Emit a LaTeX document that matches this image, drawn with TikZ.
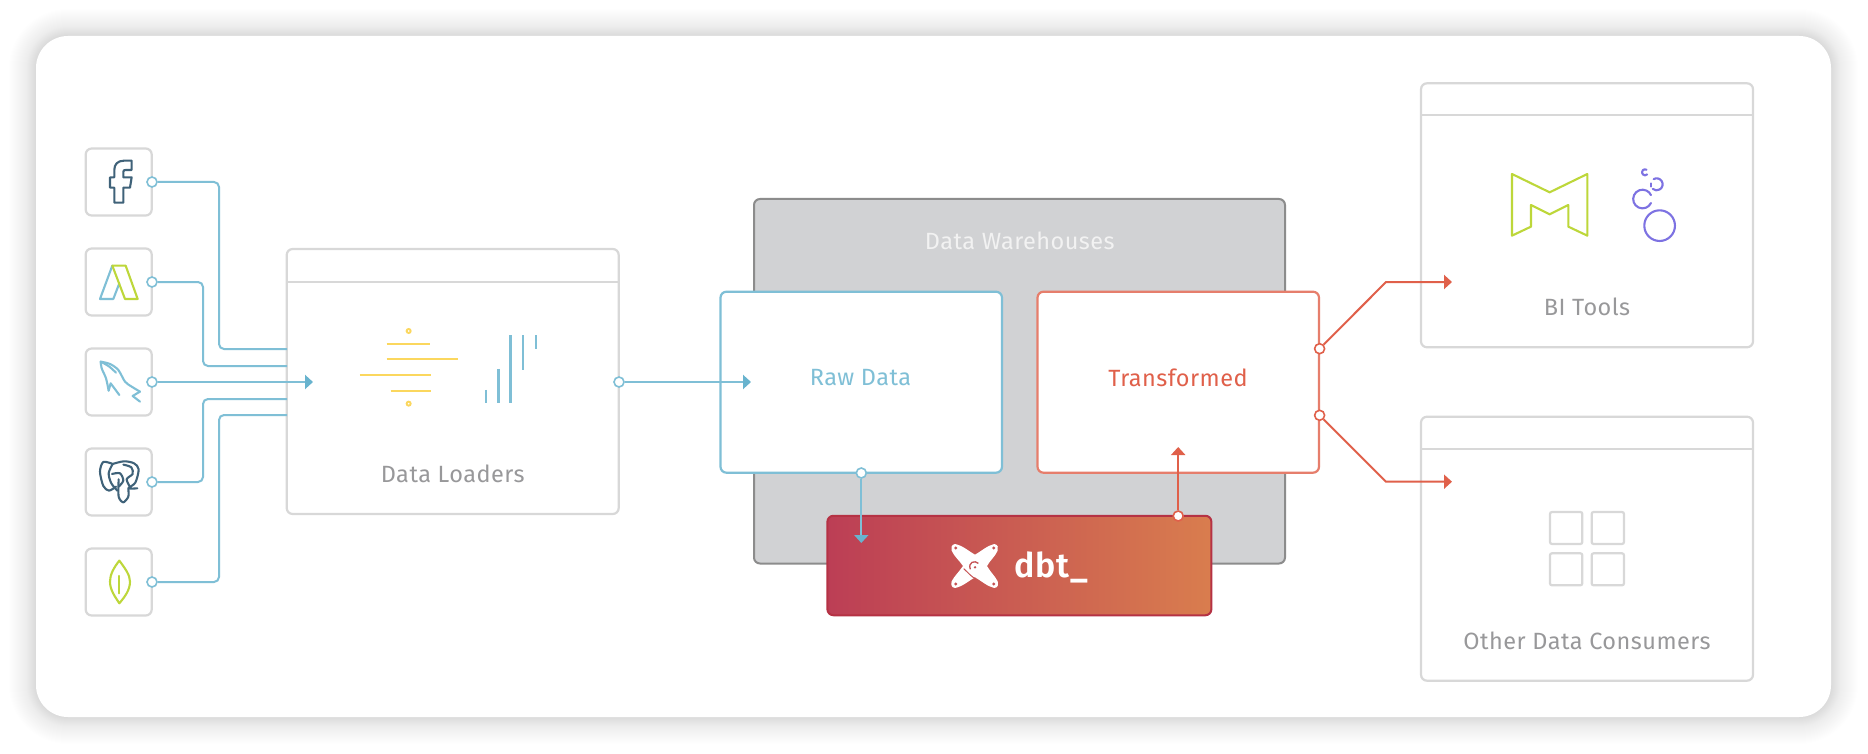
\documentclass[tikz,border=0pt]{standalone}
\usepackage{fontspec}
\usetikzlibrary{arrows.meta}
\setmainfont[LetterSpace=2.0]{Fira Sans}
\newfontfamily\dbtfont[LetterSpace=3.0]{Fira Sans SemiBold}
\definecolor{wireblue}{HTML}{7FBFD6}
\definecolor{tipblue}{HTML}{68B3CE}
\definecolor{wirered}{HTML}{E0604A}
\definecolor{edgered}{HTML}{E67E6C}
\definecolor{boxgray}{HTML}{D8D8D8}
\definecolor{textgray}{HTML}{98989A}
\definecolor{whfill}{HTML}{D1D2D4}
\definecolor{whedge}{HTML}{8C8C8C}
\definecolor{dbtleft}{HTML}{BC3E55}
\definecolor{dbtright}{HTML}{D97D4E}
\definecolor{dbtedge}{HTML}{B53244}
\definecolor{icondark}{HTML}{3F6279}
\definecolor{lime}{HTML}{BDD73A}
\definecolor{sunny}{HTML}{FBD75E}
\definecolor{bubble}{HTML}{7D72E2}
\tikzset{
    winbox/.style={draw=boxgray,fill=white,line width=2.2pt,rounded corners=6,inner sep=0,outer sep=0},
    iconbox/.style={winbox,minimum width=66,minimum height=67},
    tilebox/.style={draw=boxgray,line width=2.2pt,rounded corners=2},
    caption/.style={inner sep=0,text=textgray,font=\fontsize{23.5}{26}\selectfont},
    bluedot/.style={circle,draw=wireblue,fill=white,line width=1.6pt,inner sep=0,minimum size=10},
    reddot/.style={circle,draw=wirered,fill=white,line width=1.6pt,inner sep=0,minimum size=10},
    bluewire/.style={draw=wireblue,line width=2pt,rounded corners=5},
    redwire/.style={draw=wirered,line width=2pt},
    bluetip/.style={-{Triangle[length=8,width=14,color=tipblue]}},
    redtip/.style={-{Triangle[length=8,width=14,color=wirered]}},
    zoomed/.style={x=0.3333pt,y=-0.3333pt},
    iconline/.style={line width=2.1pt,line join=round,line cap=round}
}
\begin{document}
\begin{tikzpicture}[x=1pt,y=-1pt]
                \useasboundingbox (0,0) rectangle (1868,754);
                \foreach \i in {1,...,36} {
                    \pgfmathsetmacro{\shade}{0.00022*(37-\i)}
                    \fill[black,fill opacity=\shade,rounded corners=32+\i] (36-\i,36-\i) rectangle (1831+\i,717+\i);
                }
                \node[fill=white,rounded corners=32,inner sep=0,minimum width=1795,minimum height=681] (card) at (933.5,376.5) {};
                \begin{scope}[every node/.style={iconbox}]
                    \node (fb) at (118.7,182) {};
                    \node (ads) at (118.7,282) {};
                    \node (mysql) at (118.7,382) {};
                    \node (pg) at (118.7,482) {};
                    \node (mongo) at (118.7,582) {};
                \end{scope}
                \node[winbox,minimum width=332,minimum height=265] (loaders) at (452.7,381.5) {};
                \node[winbox,minimum width=332,minimum height=264] (bi) at (1587,215.3) {};
                \node[winbox,minimum width=332,minimum height=264] (other) at (1587,548.7) {};
                \node[draw=whedge,fill=whfill,line width=2pt,rounded corners=6,minimum width=531,minimum height=364.5,inner sep=0] (wh) at (1019.5,381.25) {};
                \node[draw=wireblue,fill=white,line width=2.2pt,rounded corners=6,minimum width=281.5,minimum height=181,inner sep=0] (raw) at (861.25,382.2) {};
                \node[draw=edgered,fill=white,line width=2.2pt,rounded corners=6,minimum width=281.5,minimum height=181,inner sep=0] (tr) at (1178.25,382.2) {};
                \node[left color=dbtleft,right color=dbtright,draw=dbtedge,line width=2pt,rounded corners=6,minimum width=384,minimum height=99.5,inner sep=0] (dbt) at (1019.4,565.5) {};
                \draw[boxgray,line width=2pt] (287,282) -- (619,282);
                \draw[boxgray,line width=1.8pt] (1421,115) -- (1753,115);
                \draw[boxgray,line width=2.2pt] (1421,448.7) -- (1753,448.7);
                \node[caption] (loadtext) at (452.7,474) {Data Loaders};
                \node[caption] (bitext) at (1587,307) {BI Tools};
                \node[caption] (othertext) at (1587,640.5) {Other Data Consumers};
                \node[caption,text=white!95!black] (whtext) at (1019.8,241) {Data Warehouses};
                \node[caption,text=wireblue] (rawtext) at (860.5,378) {Raw Data};
                \node[caption,text=wirered] (trtext) at (1178,378) {Transformed};
                \node[inner sep=0,anchor=base west,text=white,font=\dbtfont\fontsize{34}{36}\selectfont] (dbttext) at (1014,577) {dbt\_};
                \begin{scope}[every node/.style={bluedot}]
                    \node (fbdot) at (152,182) {};
                    \node (adsdot) at (152,282) {};
                    \node (mysqldot) at (152,382) {};
                    \node (pgdot) at (152,482) {};
                    \node (mongodot) at (152,582) {};
                    \node (loaddot) at (619,382) {};
                    \node (rawdot) at (861.3,473) {};
                \end{scope}
                \begin{scope}[every node/.style={reddot}]
                    \node (dbtdot) at (1178.2,516) {};
                    \node (upperdot) at (1319.6,348.7) {};
                    \node (lowerdot) at (1319.6,415.3) {};
                \end{scope}
                \coordinate (kneea) at (219,349);
                \coordinate (kneeb) at (203,366);
                \coordinate (kneec) at (203,399);
                \coordinate (kneed) at (219,415);
                \coordinate (ina) at (287,349);
                \coordinate (inb) at (287,366);
                \coordinate (inc) at (287,399);
                \coordinate (ind) at (287,415);
                \coordinate (loadtip) at (313,382);
                \coordinate (rawtip) at (751,382);
                \coordinate (dbttip) at (861.3,543);
                \coordinate (trtip) at (1178.2,447);
                \coordinate (upperknee) at (1386,282);
                \coordinate (lowerknee) at (1386,481.7);
                \coordinate (bitip) at (1452,282);
                \coordinate (othertip) at (1452,481.7);
                \draw[bluewire] (fbdot) -| (kneea) -- (ina);
                \draw[bluewire] (adsdot) -| (kneeb) -- (inb);
                \draw[bluewire] (pgdot) -| (kneec) -- (inc);
                \draw[bluewire] (mongodot) -| (kneed) -- (ind);
                \draw[bluewire,bluetip] (mysqldot) -- (loadtip);
                \draw[bluewire,bluetip] (loaddot) -- (rawtip);
                \draw[bluewire,bluetip] (rawdot) -- (dbttip);
                \draw[redwire,redtip] (dbtdot) -- (trtip);
                \draw[redwire,redtip] (upperdot) -- (upperknee) -- (bitip);
                \draw[redwire,redtip] (lowerdot) -- (lowerknee) -- (othertip);
                \begin{scope}[shift={(60,120)},zoomed,iconline]
                    \draw[icondark] (163,248) -- (190,248) -- (190,203) -- (210,203) -- (215,172) -- (190,172) -- (190,156) .. controls (190,151) and (192,150) .. (197,150) -- (215,150) -- (215,122) -- (192,122) .. controls (172,122) and (163,134) .. (163,150) -- (163,172) -- (150,172) -- (150,203) -- (163,203) -- cycle;
                    \draw[wireblue] (157,437) -- (120,537) -- (160,537) -- (178,490);
                    \draw[lime] (157,437) -- (197,437) -- (233,537) -- (195,537) -- cycle;
                    \draw[wireblue] plot[smooth] coordinates {(122,725) (150,732) (175,750) (195,785) (215,800) (240,815)};
                    \draw[wireblue] plot[smooth] coordinates {(126,727) (148,740) (168,758)};
                    \draw[wireblue] (240,815) -- (218,828) -- (240,845);
                    \draw[wireblue] plot[smooth] coordinates {(122,725) (125,745) (138,775) (146,812)};
                    \draw[wireblue] (146,812) -- (152,790) -- (178,825);
                    \draw[lime] (178,1322) .. controls (160,1345) and (150,1365) .. (150,1385) .. controls (150,1410) and (165,1430) .. (178,1450) .. controls (195,1430) and (210,1410) .. (210,1385) .. controls (210,1365) and (195,1345) .. (178,1322) -- cycle;
                    \draw[lime] (178,1368) -- (178,1420);
                    \draw[icondark] plot[smooth] coordinates {(158,1032) (130,1026) (120,1055) (130,1098) (147,1112) (168,1100)};
                    \draw[icondark] plot[smooth] coordinates {(158,1032) (192,1024) (222,1030) (236,1048) (226,1088) (205,1105) (232,1105)};
                    \draw[icondark] plot[smooth] coordinates {(158,1032) (146,1060) (154,1090) (172,1112)};
                    \draw[icondark] plot[smooth] coordinates {(190,1034) (214,1042) (218,1062) (200,1078) (212,1104)};
                    \draw[icondark] plot[smooth] coordinates {(156,1062) (180,1060) (190,1082) (176,1100)};
                    \draw[icondark] plot[smooth] coordinates {(176,1078) (176,1130) (190,1147) (205,1130) (205,1108)};
                \end{scope}
                \begin{scope}[shift={(280,240)},zoomed]
                    \draw[sunny,line width=1.9pt] (386,273) circle (6);
                    \draw[sunny,line width=1.9pt] (386,491) circle (6);
                    \draw[sunny,line width=2.2pt] (320,313) -- (451,313);
                    \draw[sunny,line width=2pt] (320,358) -- (533,358);
                    \draw[sunny,line width=2.2pt] (240,405) -- (452,405);
                    \draw[sunny,line width=2.2pt] (332,452) -- (452,452);
                    \draw[wireblue,line width=2pt] (617,450) -- (617,490);
                    \draw[wireblue,line width=2.4pt] (655,387) -- (655,490);
                    \draw[wireblue,line width=3pt] (693,286) -- (693,490);
                    \draw[wireblue,line width=2.2pt] (729,286) -- (729,390);
                    \draw[wireblue,line width=2pt] (767,286) -- (767,327);
                \end{scope}
                \begin{scope}[shift={(1300,70)},zoomed,iconline]
                    \draw[lime] (636,312) -- (749,367) -- (862,312) -- (862,497) -- (805,470) -- (805,405) -- (749,433) -- (693,405) -- (693,470) -- (636,497) -- cycle;
                    \draw[bubble] (1079,467) circle (46);
                    \draw[bubble] (1053,399) arc (25:335:28);
                    \draw[bubble] (1052,340) -- (1052,350);
                    \draw[bubble] (1061,327.4) arc (-120:130:18);
                    \draw[bubble] (1041.4,313.4) arc (45:300:9);
                \end{scope}
                \begin{scope}[shift={(1300,400)},zoomed]
                    \draw[tilebox] (750,336) rectangle (847,432);
                    \draw[tilebox] (875,336) rectangle (972,432);
                    \draw[tilebox] (750,460) rectangle (847,556);
                    \draw[tilebox] (875,460) rectangle (972,556);
                \end{scope}
                \begin{scope}[shift={(945,540)},zoomed]
                    \fill[white] (30,12) .. controls (52,16) and (72,34) .. (90,44) .. controls (108,34) and (128,16) .. (148,12) .. controls (160,14) and (160,24) .. (158,32) .. controls (150,50) and (136,60) .. (126,78) .. controls (136,96) and (150,108) .. (158,124) .. controls (160,134) and (160,142) .. (148,144) .. controls (128,140) and (108,122) .. (90,112) .. controls (72,122) and (52,140) .. (30,144) .. controls (18,142) and (18,134) .. (20,124) .. controls (28,108) and (42,96) .. (54,78) .. controls (42,60) and (28,50) .. (20,32) .. controls (18,24) and (18,14) .. (30,12) -- cycle;
                    \fill[dbtleft!70!dbtright] (32,24) circle (5);
                    \fill[dbtleft!70!dbtright] (146,24) circle (5);
                    \fill[dbtleft!70!dbtright] (32,132) circle (5);
                    \fill[dbtleft!70!dbtright] (146,132) circle (5);
                    \draw[dbtleft!70!dbtright,line width=1.3pt] (76,88) .. controls (68,66) and (90,60) .. (100,70);
                    \draw[dbtleft!70!dbtright,line width=1pt] (56,86) .. controls (68,96) and (80,112) .. (92,116);
                    \fill[dbtleft!70!dbtright] (90,82) circle (4);
                \end{scope}
            \end{tikzpicture}
\end{document}
